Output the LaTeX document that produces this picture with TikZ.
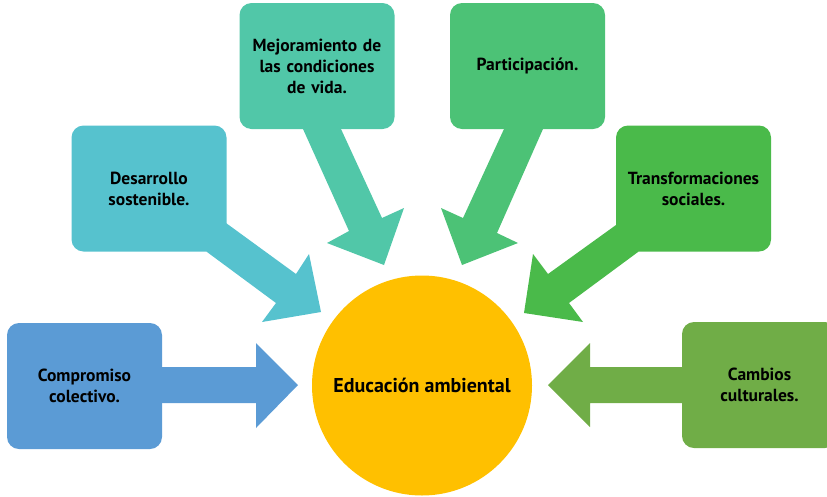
\documentclass[tikz,border=0pt]{standalone}
\usepackage{fontspec}
\setmainfont{PT Sans}
\definecolor{cblue}{HTML}{5B9BD5}
\definecolor{ccyan}{HTML}{56C2CE}
\definecolor{cteal}{HTML}{51C7A8}
\definecolor{cgreenA}{HTML}{4CC276}
\definecolor{cgreenB}{HTML}{4ABA4A}
\definecolor{colive}{HTML}{70AD47}
\definecolor{cgold}{HTML}{FFC000}
\begin{document}
\begin{tikzpicture}[x=1pt,y=-1pt,
  box/.style={rounded corners=12pt, minimum width=155pt, minimum height=126pt,
    inner sep=0pt, align=center, text width=150pt,
    font=\bfseries\fontsize{17.5}{21}\selectfont}]
\useasboundingbox (0,0) rectangle (827,496);
% arrows (callout pointers)
\fill[cblue] (150,367) -- (256,367) -- (256,343) -- (298,385) -- (256,428) -- (256,403) -- (150,403) -- cycle;
\fill[ccyan] (200,240) -- (215,215) -- (226,223) -- (296,274) -- (309,254) -- (321,312) -- (262,322) -- (276,303) -- (207,252) -- cycle;
\fill[cteal] (303,120) -- (303,129) -- (349,231) -- (327,243) -- (384,265) -- (404,208) -- (382,218) -- (341,129) -- (341,120) -- cycle;
\fill[cgreenA] (504,120) -- (504,129) -- (463,218) -- (441,208) -- (462,265) -- (518,243) -- (497,233) -- (543,129) -- (543,120) -- cycle;
\fill[cgreenB] (630,215) -- (645,240) -- (638,252) -- (569,303) -- (583,322) -- (524,313) -- (533,254) -- (548,274) -- (616,225) -- cycle;
\fill[colive] (695,367) -- (590,367) -- (590,343) -- (548,385) -- (590,427) -- (590,403) -- (695,403) -- cycle;
% boxes
\node[box, fill=cblue] (a) at (84.5,386) {Compromiso\\colectivo.};
\node[box, fill=ccyan] (b) at (149,188.5) {Desarrollo\\sostenible.};
\node[box, fill=cteal] (c) at (317,66) {Mejoramiento de\\las condiciones\\de vida.};
\node[box, fill=cgreenA] (d) at (527.5,66) {Participación.};
\node[box, fill=cgreenB] (e) at (693.5,188.5) {Transformaciones\\sociales.};
\node[box, fill=colive] (f) at (759.5,385) {Cambios\\culturales.};
% centre
\node[circle, fill=cgold, minimum size=220pt, inner sep=0pt,
  font=\bfseries\fontsize{20}{24}\selectfont] (m) at (422,385.5) {Educación ambiental};
\end{tikzpicture}
\end{document}
